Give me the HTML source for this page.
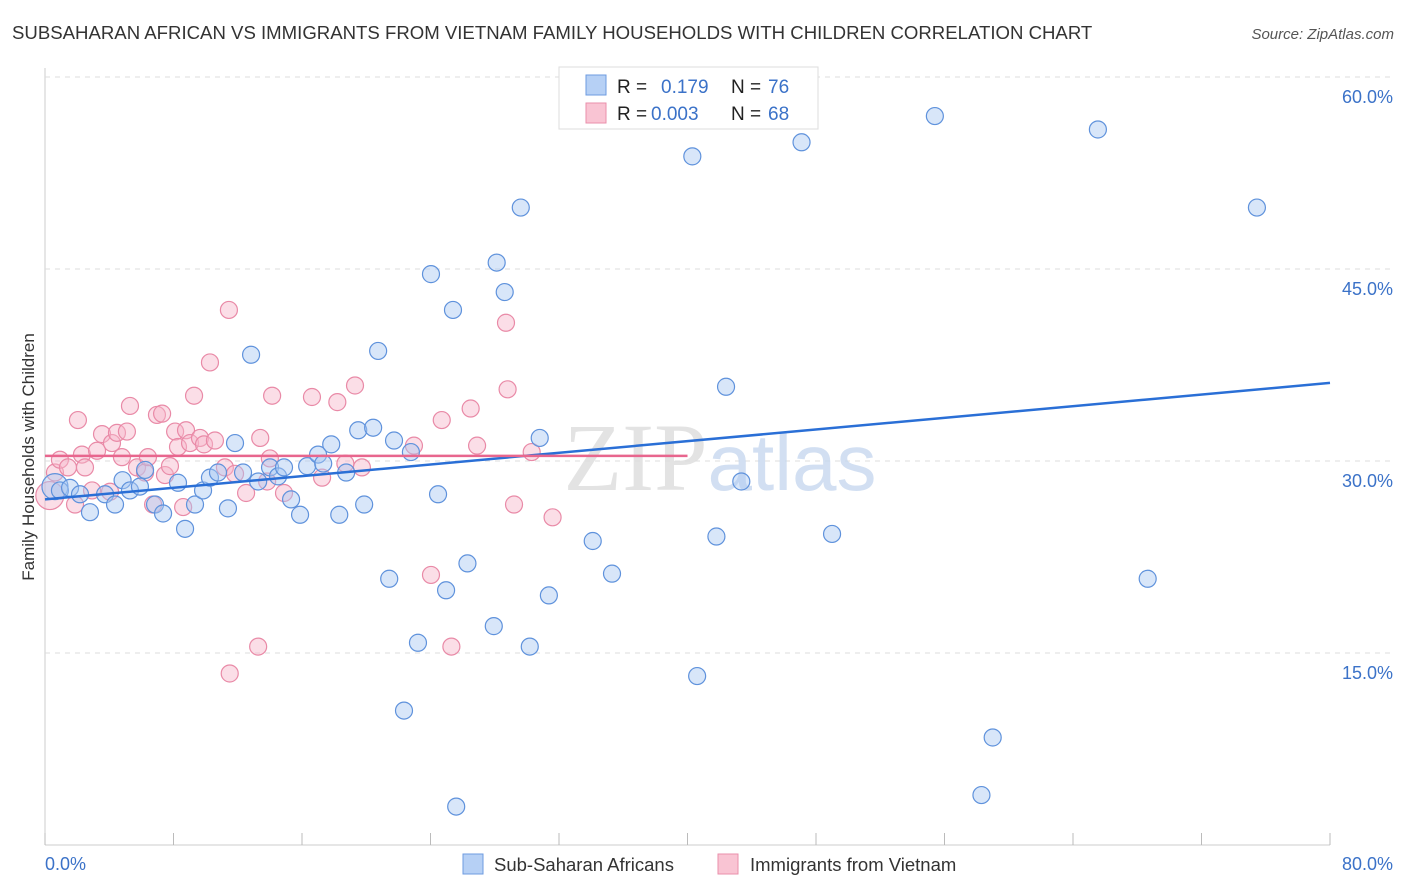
<!DOCTYPE html>
<html><head><meta charset="utf-8"><style>
body{margin:0;background:#fff;font-family:"Liberation Sans",sans-serif;}
svg{display:block}
</style></head><body>
<svg id="chart" width="1406" height="892" viewBox="0 0 1406 892" xmlns="http://www.w3.org/2000/svg">
<text x="12" y="39" font-size="18.6" fill="#333">SUBSAHARAN AFRICAN VS IMMIGRANTS FROM VIETNAM FAMILY HOUSEHOLDS WITH CHILDREN CORRELATION CHART</text>
<text x="1394" y="39" font-size="15" fill="#555" font-style="italic" text-anchor="end">Source: ZipAtlas.com</text>
<g id="grid"></g>
<text x="720" y="490" font-size="96" text-anchor="middle" font-family="Liberation Serif,serif" fill="#ddd" opacity="0.8">ZIP<tspan fill="#c7d8ef" font-family="Liberation Sans,sans-serif" font-size="80">atlas</tspan></text>
<g id="pts"></g>
<g id="lines"></g>
<text transform="translate(34,457) rotate(-90)" font-size="17" fill="#333" text-anchor="middle">Family Households with Children</text>
<g>
<rect x="559" y="67" width="259" height="62" fill="#fff" stroke="#ddd"/>
<rect x="586" y="75" width="20" height="20" fill="#b6d0f5" stroke="#6e9be0"/>
<rect x="586" y="103" width="20" height="20" fill="#f9c4d3" stroke="#ea8fab"/>
<text x="617" y="93" font-size="19" fill="#222">R = </text><text x="661" y="93" font-size="19" fill="#3b72c8">0.179</text>
<text x="731" y="93" font-size="19" fill="#222">N = </text><text x="768" y="93" font-size="19" fill="#3b72c8">76</text>
<text x="617" y="120" font-size="19" fill="#222">R = </text><text x="651" y="120" font-size="19" fill="#3b72c8">0.003</text>
<text x="731" y="120" font-size="19" fill="#222">N = </text><text x="768" y="120" font-size="19" fill="#3b72c8">68</text>
</g>
<g>
<rect x="463" y="854" width="20" height="20" fill="#b6d0f5" stroke="#6e9be0"/>
<text x="494" y="871" font-size="18.5" fill="#333">Sub-Saharan Africans</text>
<rect x="718" y="854" width="20" height="20" fill="#f9c4d3" stroke="#ea8fab"/>
<text x="750" y="871" font-size="18.5" fill="#333">Immigrants from Vietnam</text>
</g>
</svg>
<script>
const yTicks=[15,30,45,60];
const xTickLabels=["0.0%","80.0%"];
const blueX=[0.62,0.93,1.56,2.18,2.8,3.74,4.36,4.83,5.29,5.91,6.23,6.85,7.35,8.28,8.72,9.34,9.84,10.27,10.77,11.39,11.83,12.33,12.83,13.27,14.01,14.51,14.88,15.32,15.88,16.32,17.0,17.32,17.82,18.32,18.75,19.5,19.87,20.43,20.74,21.43,21.73,22.35,22.78,23.22,24.03,24.47,24.97,25.4,25.6,26.3,27.94,28.12,28.62,29.62,30.18,30.8,31.37,34.1,35.3,40.3,40.6,41.8,42.4,43.35,47.1,49.0,55.4,58.3,59.0,65.55,68.65,75.45,33.6];
const blueY=[28.0,27.7,27.9,27.4,26.0,27.4,26.6,28.5,27.7,28.0,29.3,26.6,25.9,28.3,24.7,26.6,27.7,28.7,29.1,26.3,31.4,29.1,38.3,28.4,29.5,28.8,29.5,27.0,25.8,29.6,30.5,29.8,31.3,25.8,29.1,32.4,26.6,32.6,38.6,20.8,31.6,10.5,30.7,15.8,44.6,27.4,19.9,41.8,3.0,22.0,17.1,45.5,43.2,49.8,15.5,31.8,19.5,23.75,21.2,53.8,13.2,24.1,35.8,28.4,54.9,24.3,56.95,3.9,8.4,55.9,20.8,49.8,58.1];
const pinkX=[0.3,0.62,0.93,1.43,1.87,2.05,2.3,2.49,2.93,3.24,3.55,4.05,4.17,4.48,4.79,5.1,5.29,5.73,6.23,6.41,6.73,6.97,7.29,7.47,7.78,8.1,8.28,8.6,8.78,9.03,9.28,9.65,9.9,10.27,10.58,11.2,11.45,11.5,11.83,12.52,13.27,13.4,13.83,14.0,14.14,14.88,16.62,17.25,18.2,18.7,19.3,19.73,22.97,24.03,24.7,25.3,26.5,26.9,28.7,28.8,29.2,30.3,31.6];
const pinkY=[27.3,29.1,30.1,29.5,26.6,33.2,30.5,29.5,27.7,30.8,32.1,27.6,31.4,32.2,30.3,32.3,34.3,29.5,29.1,30.3,26.6,33.6,33.7,28.9,29.6,32.3,31.1,26.4,32.4,31.4,35.1,31.8,31.3,37.7,31.6,29.5,41.8,13.4,29.0,27.5,15.5,31.8,28.4,30.2,35.1,27.5,35.0,28.7,34.6,29.8,35.9,29.5,31.2,21.1,33.2,15.5,34.1,31.2,40.8,35.6,26.6,30.7,25.6];
const blueTrend=[[0,27.0],[80,36.1]];
const pinkTrend=[[0,30.4],[40,30.4]];
const X=v=>45+v/80*1285, Y=v=>845-v/15*192;
const NS="http://www.w3.org/2000/svg";
function mk(p,t,a){const e=document.createElementNS(NS,t);for(const k in a)e.setAttribute(k,a[k]);p.appendChild(e);return e;}
const grid=document.getElementById('grid');
mk(grid,'line',{x1:45,y1:68,x2:45,y2:845,stroke:'#ccc'});
mk(grid,'line',{x1:45,y1:845,x2:1330,y2:845,stroke:'#ccc'});
for(let i=0;i<=10;i++){const t=mk(grid,'line',{x1:X(i*8),x2:X(i*8),y1:845,y2:833,stroke:'#bbb'});

}
yTicks.forEach(v=>{const l=mk(grid,'line',{x1:45,x2:1393,y1:Y(v),y2:Y(v),stroke:'#ddd','stroke-dasharray':'5,5'});


const t=mk(grid,'text',{x:1393,y:Y(v)+26,'font-size':18,fill:'#3b72c8','text-anchor':'end'});
t.textContent=v.toFixed(1)+'%';

});
const gl0=mk(grid,'text',{x:45,y:870,'font-size':18,fill:'#3b72c8'});gl0.textContent=xTickLabels[0];


const gl1=mk(grid,'text',{x:1393,y:870,'font-size':18,fill:'#3b72c8','text-anchor':'end'});gl1.textContent=xTickLabels[1];


const pts=document.getElementById('pts');
pinkX.forEach((x,i)=>{const c=mk(pts,'circle',{cx:X(x),cy:Y(pinkY[i]),r:i==0?14:8.5,fill:'#f7b6c9','fill-opacity':0.45,stroke:'#e98aa7','stroke-width':1.2});

});
blueX.forEach((x,i)=>{const c=mk(pts,'circle',{cx:X(x),cy:Y(blueY[i]),r:i==0?13:8.5,fill:'#a9c8f2','fill-opacity':0.45,stroke:'#5f92dc','stroke-width':1.2});

});
const lines=document.getElementById('lines');
const bl=mk(lines,'line',{x1:X(blueTrend[0][0]),y1:Y(blueTrend[0][1]),x2:X(blueTrend[1][0]),y2:Y(blueTrend[1][1]),stroke:'#2a6fd6','stroke-width':2.5});


const pl=mk(lines,'line',{x1:X(pinkTrend[0][0]),y1:Y(pinkTrend[0][1]),x2:X(pinkTrend[1][0]),y2:Y(pinkTrend[1][1]),stroke:'#e8668e','stroke-width':2.5});


</script>
</body></html>
